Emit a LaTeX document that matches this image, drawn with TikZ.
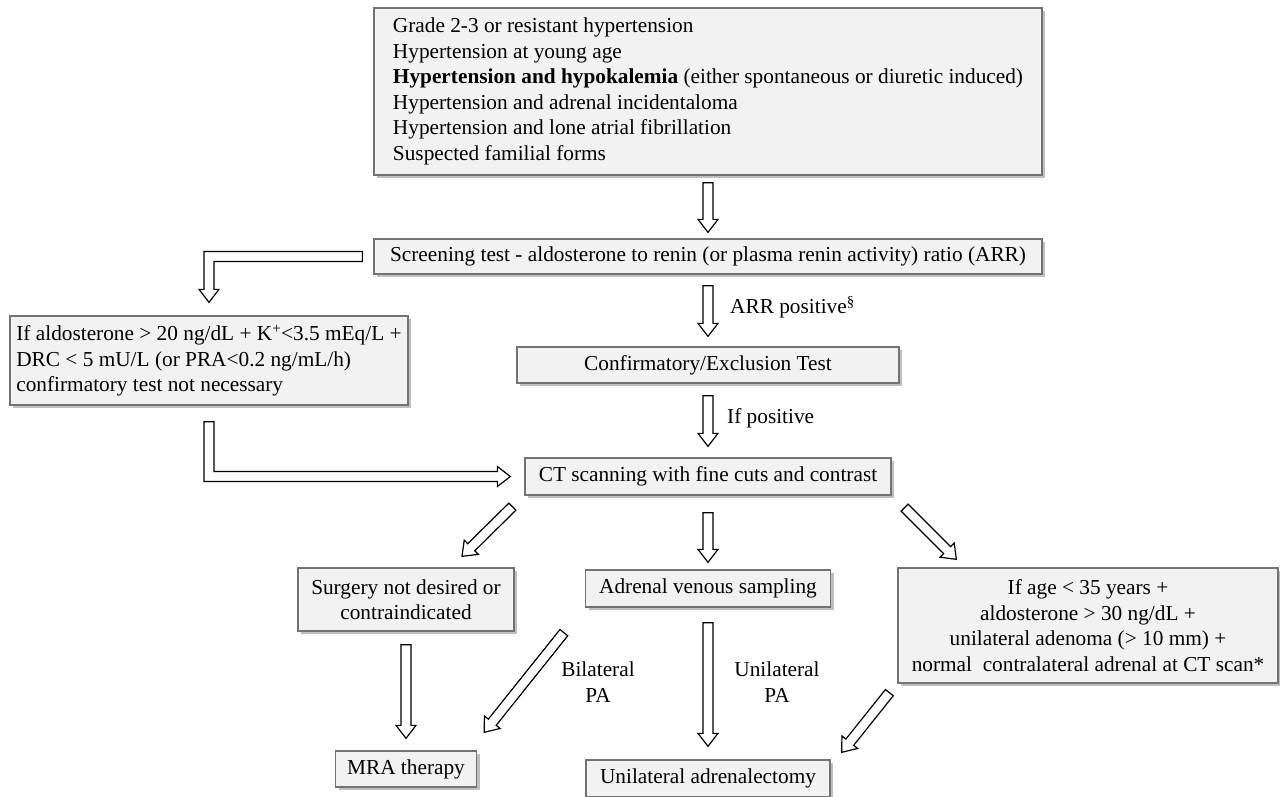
\documentclass[tikz,border=0pt]{standalone}
\usepackage{fontspec}
\setmainfont{Liberation Serif}
\usetikzlibrary{calc,shadows}

\tikzset{
	box/.style={draw=black!55, line width=1.3pt, fill=gray!10, inner sep=4pt,
		font=\fontsize{21.3}{25.5}\selectfont,
		drop shadow={shadow xshift=3pt, shadow yshift=-3pt, fill=black!50}},
	lbl/.style={inner sep=0pt, font=\fontsize{21.3}{25.5}\selectfont},
	hollow/.style={draw=black, line width=1.2pt, fill=white, line join=miter}
}

% hollow block arrow from #1 to #2
\newcommand{\harrow}[2]{%
	\coordinate (ha-s) at (#1);
	\coordinate (ha-e) at (#2);
	\coordinate (ha-h) at ($(ha-e)!13pt!(ha-s)$);
	\filldraw[hollow] ($(ha-s)!5pt!90:(ha-e)$) -- ($(ha-h)!5pt!90:(ha-e)$)
		-- ($(ha-h)!10pt!90:(ha-e)$) -- (ha-e) -- ($(ha-h)!10pt!-90:(ha-e)$)
		-- ($(ha-h)!5pt!-90:(ha-e)$) -- ($(ha-s)!5pt!-90:(ha-e)$) -- cycle;}

\begin{document}
\begin{tikzpicture}[x=1pt, y=-1pt]
	\useasboundingbox (0,0) rectangle (1280,797);
	\node [box, align=left, minimum width=668pt, minimum height=167pt] (risk) at (708,91.5)
		{Grade 2-3 or resistant hypertension\\
		Hypertension at young age\\
		\textbf{Hypertension and hypokalemia} (either spontaneous or diuretic induced)\\
		Hypertension and adrenal incidentaloma\\
		Hypertension and lone atrial fibrillation\\
		Suspected familial forms};
	\node [box, minimum width=668pt, minimum height=35pt] (screen) at (708,256.5)
		{Screening test - aldosterone to renin (or plasma renin activity) ratio (ARR)};
	\node [box, align=left, inner xsep=2pt, minimum width=398pt, minimum height=89pt] (direct) at (209,360.5)
		{If aldosterone > 20 ng/dL + K\textsuperscript{+}<3.5 mEq/L +\\
		DRC < 5 mU/L (or PRA<0.2 ng/mL/h)\\
		confirmatory test not necessary};
	\node [box, minimum width=382pt, minimum height=36pt] (confirm) at (708,365) {Confirmatory/Exclusion Test};
	\node [box, minimum width=366pt, minimum height=37pt] (ct) at (708,476.5) {CT scanning with fine cuts and contrast};
	\node [box, align=center, minimum width=216pt, minimum height=63pt] (surgery) at (406,599.5)
		{Surgery not desired or\\ contraindicated};
	\node [box, minimum width=245pt, minimum height=37pt] (avs) at (708,588.5) {Adrenal venous sampling};
	\node [box, align=center, minimum width=380pt, minimum height=115pt] (advice) at (1088,625.5)
		{If age < 35 years +\\
		aldosterone > 30 ng/dL +\\
		unilateral adenoma (> 10 mm) +\\
		normal~ contralateral adrenal at CT scan*};
	\node [box, minimum width=141pt, minimum height=36pt] (mra) at (406,769) {MRA therapy};
	\node [box, minimum width=244pt, minimum height=37pt] (unilat) at (708,778.5) {Unilateral adrenalectomy};

	\node [lbl, anchor=west] (arrpos) at (730,307) {ARR positive\textsuperscript{\S}};
	\node [lbl, anchor=west] (ifpos) at (727,418) {If positive};
	\node [lbl, align=center] (bilatpa) at (598,682) {Bilateral\\ PA};
	\node [lbl, align=center] (unilatpa) at (777,682) {Unilateral\\ PA};

	\harrow{$(risk.south -| screen.north)+(0,7)$}{$(screen.north)+(0,-6)$}
	\harrow{$(screen.south)+(0,11)$}{$(confirm.north)+(0,-10)$}
	\harrow{$(confirm.south)+(0,12)$}{$(ct.north)+(0,-11)$}
	\harrow{$(ct.south)+(0,17)$}{$(avs.north)+(0,-7)$}
	\harrow{$(ct.south west)+(-12,11)$}{$(surgery.north)+(56,-11)$}
	\harrow{$(ct.south east)+(13,12)$}{$(advice.north west)+(59,-8)$}
	\harrow{$(surgery.south)+(0,13)$}{$(mra.north)+(0,-12)$}
	\harrow{$(avs.south west)+(-21,25)$}{$(mra.north east)+(7,-18)$}
	\harrow{$(avs.south)+(0,15)$}{$(unilat.north)+(0,-13)$}
	\harrow{$(advice.south west)+(-8,9)$}{$(unilat.north east)+(11,-7)$}

	% elbow arrows on the left
	\filldraw [hollow] let \p1=($(screen.west)+(-11,0)$), \p2=($(direct.north)+(0,-13)$) in
		(\x1,\y1+5pt) -- (\x2-5pt,\y1+5pt) -- (\x2-5pt,\y2+13pt) -- (\x2-10pt,\y2+13pt) -- (\x2,\y2)
		-- (\x2+10pt,\y2+13pt) -- (\x2+5pt,\y2+13pt) -- (\x2+5pt,\y1-5pt) -- (\x1,\y1-5pt) -- cycle;
	\filldraw [hollow] let \p1=($(direct.south)+(0,16)$), \p2=($(ct.west)+(-14,0)$) in
		(\x1-5pt,\y1) -- (\x1-5pt,\y2-5pt) -- (\x2-13pt,\y2-5pt) -- (\x2-13pt,\y2-10pt) -- (\x2,\y2)
		-- (\x2-13pt,\y2+10pt) -- (\x2-13pt,\y2+5pt) -- (\x1+5pt,\y2+5pt) -- (\x1+5pt,\y1) -- cycle;
\end{tikzpicture}
\end{document}
